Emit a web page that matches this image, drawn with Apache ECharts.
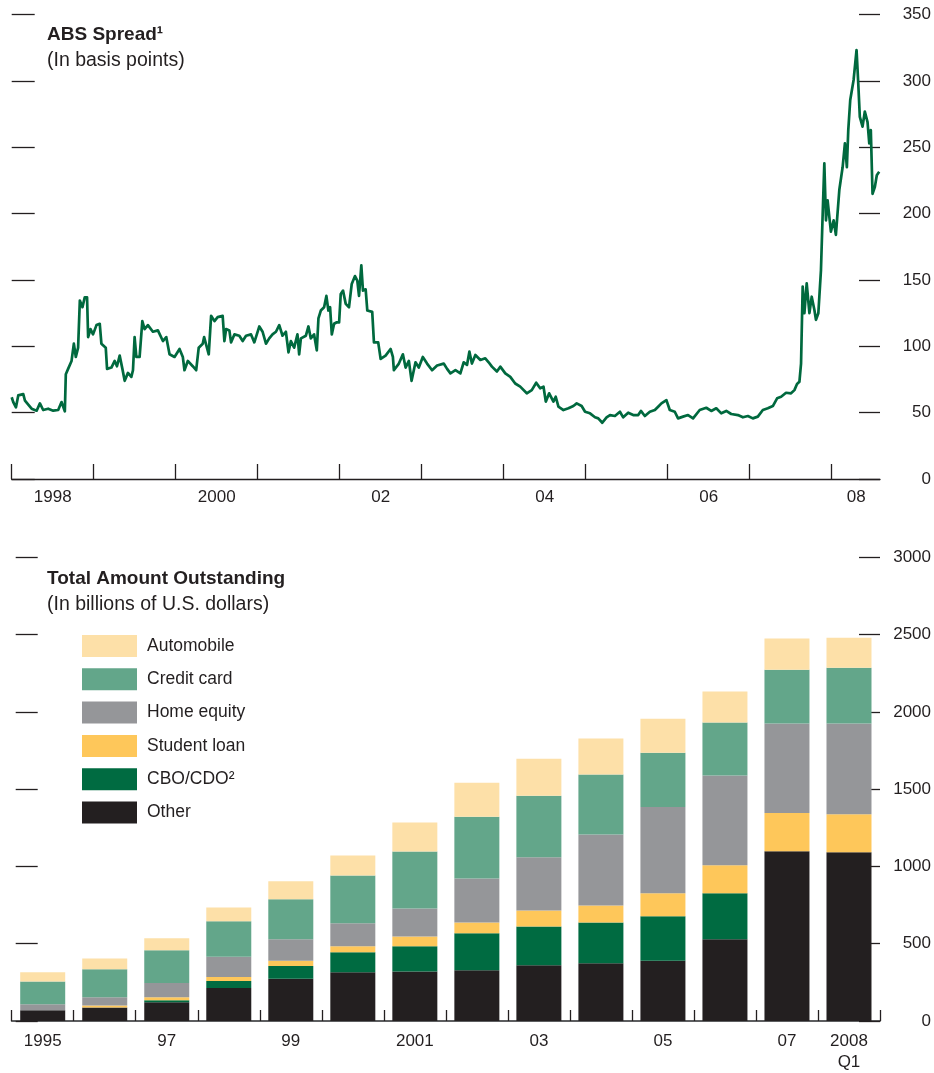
<!DOCTYPE html>
<html>
<head>
<meta charset="utf-8">
<script src="https://cdn.jsdelivr.net/npm/echarts@6/dist/echarts.min.js"></script>
<style>
  html, body { margin: 0; padding: 0; background: #fff; }
  #chart { width: 934px; height: 1073px; }
</style>
</head>
<body>
<div id="chart"></div>
<script>
// ABS spread, basis points (dates as decimal years)
const spreadDates = [
  1998.000, 1998.019, 1998.052, 1998.080, 1998.141, 1998.162, 1998.202, 1998.243, 1998.304, 1998.344,
  1998.384, 1998.445, 1998.506, 1998.567, 1998.608, 1998.648, 1998.660, 1998.688, 1998.730, 1998.758,
  1998.782, 1998.810, 1998.831, 1998.863, 1998.891, 1998.919, 1998.932, 1998.961, 1998.992, 1999.034,
  1999.074, 1999.094, 1999.147, 1999.163, 1999.216, 1999.256, 1999.284, 1999.317, 1999.350, 1999.378,
  1999.418, 1999.459, 1999.479, 1999.499, 1999.520, 1999.560, 1999.593, 1999.621, 1999.661, 1999.722,
  1999.783, 1999.844, 1999.885, 1999.925, 1999.986, 2000.047, 2000.087, 2000.107, 2000.148, 2000.208,
  2000.250, 2000.281, 2000.330, 2000.347, 2000.403, 2000.432, 2000.473, 2000.512, 2000.573, 2000.594,
  2000.615, 2000.655, 2000.675, 2000.716, 2000.776, 2000.817, 2000.858, 2000.919, 2000.959, 2001.020,
  2001.060, 2001.101, 2001.141, 2001.181, 2001.223, 2001.263, 2001.303, 2001.344, 2001.376, 2001.405,
  2001.445, 2001.485, 2001.506, 2001.527, 2001.588, 2001.619, 2001.648, 2001.688, 2001.721, 2001.741,
  2001.770, 2001.810, 2001.838, 2001.862, 2001.883, 2001.904, 2001.932, 2001.960, 2001.993, 2002.013,
  2002.041, 2002.074, 2002.114, 2002.147, 2002.187, 2002.215, 2002.236, 2002.264, 2002.284, 2002.317,
  2002.337, 2002.397, 2002.418, 2002.470, 2002.500, 2002.560, 2002.621, 2002.649, 2002.661, 2002.722,
  2002.771, 2002.804, 2002.844, 2002.877, 2002.925, 2002.965, 2003.014, 2003.066, 2003.127, 2003.188,
  2003.208, 2003.269, 2003.310, 2003.351, 2003.412, 2003.472, 2003.513, 2003.553, 2003.582, 2003.613,
  2003.655, 2003.716, 2003.776, 2003.817, 2003.857, 2003.918, 2003.959, 2004.020, 2004.081, 2004.141,
  2004.202, 2004.282, 2004.343, 2004.397, 2004.445, 2004.486, 2004.514, 2004.555, 2004.607, 2004.635,
  2004.668, 2004.729, 2004.790, 2004.850, 2004.891, 2004.951, 2004.993, 2005.053, 2005.114, 2005.154,
  2005.203, 2005.255, 2005.297, 2005.357, 2005.418, 2005.458, 2005.519, 2005.580, 2005.641, 2005.674,
  2005.722, 2005.783, 2005.844, 2005.884, 2005.924, 2005.985, 2006.026, 2006.087, 2006.127, 2006.188,
  2006.249, 2006.310, 2006.391, 2006.471, 2006.532, 2006.593, 2006.654, 2006.715, 2006.775, 2006.857,
  2006.918, 2006.979, 2007.039, 2007.100, 2007.161, 2007.222, 2007.283, 2007.335, 2007.384, 2007.444,
  2007.505, 2007.546, 2007.578, 2007.607, 2007.627, 2007.647, 2007.668, 2007.696, 2007.729, 2007.757,
  2007.790, 2007.809, 2007.838, 2007.870, 2007.891, 2007.911, 2007.931, 2007.951, 2007.991, 2008.025,
  2008.052, 2008.094, 2008.134, 2008.162, 2008.186, 2008.203, 2008.227, 2008.268, 2008.304, 2008.325,
  2008.344, 2008.377, 2008.405, 2008.438, 2008.459, 2008.478, 2008.499, 2008.527, 2008.551, 2008.580
];
const spreadValues = [
  61.6, 58, 54, 63, 64, 59, 56, 53, 51.5, 57,
  52, 53, 51.5, 52, 58, 51, 79, 83, 89, 102,
  92, 99, 134.5, 129.5, 137, 137, 107, 113, 109, 116,
  117, 102, 99, 83, 84, 89, 85, 93, 83, 74,
  80, 77, 82, 107, 92, 92, 119, 113, 116, 111,
  112, 104, 107, 94, 92, 98, 92, 82, 89, 85,
  82, 99, 102, 107, 94, 123, 119, 122, 123, 104,
  113, 112, 103, 109, 108, 104, 108, 109, 103, 115,
  111, 102, 106, 109, 111, 116, 108, 111, 95.5, 104,
  99, 109, 94, 106, 108, 115, 106, 109, 97, 121,
  127, 129.5, 138, 127, 129.5, 109, 117, 118, 118, 139.5,
  142, 132, 129.5, 147, 153, 149.6, 138, 161, 142, 143,
  127, 126, 103, 103, 90.5, 93, 98, 92, 82, 87,
  94, 84, 89, 74, 88, 84, 92, 87, 82, 85.5,
  84.7, 87, 83, 79.6, 82, 79.6, 88, 86, 96, 87,
  93.5, 89.7, 91, 88, 84.7, 81, 84.7, 79.6, 77, 72,
  69.6, 64.6, 67, 72.6, 68.4, 69.6, 58.3, 64.6, 58.3, 62,
  54.5, 52, 53.3, 55, 57, 55, 50.7, 49.5, 46.5, 45.7,
  42.4, 46.5, 48.2, 47.5, 50.7, 46.5, 50, 48.2, 48.2, 51.3,
  47.5, 50.7, 52, 54.5, 57, 59.5, 52, 50.7, 45.7, 47,
  48.2, 45.7, 52, 53.7, 51.3, 53.3, 49.5, 51.3, 49, 48.2,
  46.5, 47.5, 45.7, 47, 52, 53.3, 55, 60.8, 62, 65,
  64.6, 67, 71.6, 73.3, 87, 145, 125, 147.5, 125, 137.4,
  127.4, 120, 125, 157.5, 200, 238, 195, 210, 186.4, 195,
  184, 218, 235, 253, 235, 263, 285.7, 300.8, 323.4, 298,
  273, 265.6, 277, 269, 253, 263, 215, 220, 229, 231.6
];
const spreadTickYears = [1998, 1999, 2000, 2001, 2002, 2003, 2004, 2005, 2006, 2007, 2008];
const spreadLabelPos = [1998.5, 2000.5, 2002.5, 2004.5, 2006.5, 2008.3];
const spreadLabelText = ['1998', '2000', '02', '04', '06', '08'];

// Total amount outstanding, billions of U.S. dollars
const years = ['1995', '1996', '1997', '1998', '1999', '2000', '2001', '2002', '2003', '2004', '2005', '2006', '2007', '2008 Q1'];
const yearLabels = ['1995', '', '97', '', '99', '', '2001', '', '03', '', '05', '', '07', '2008\nQ1'];
const other = [69, 88, 121, 213, 273, 315, 321, 328, 360, 374, 389, 529, 1098, 1091];
const cboCdo = [0, 0, 13, 46, 83, 129, 162, 239, 252, 264, 289, 298, 0, 0];
const studentLoan = [0, 13, 19, 25, 33, 39, 64, 71, 103, 110, 149, 181, 248, 246];
const homeEquity = [39, 52, 93, 131, 140, 150, 181, 284, 345, 459, 558, 581, 578, 587];
const creditCard = [148, 181, 211, 230, 259, 308, 369, 400, 398, 388, 351, 343, 349, 361];
const automobile = [59, 71, 79, 90, 116, 129, 187, 219, 239, 232, 219, 199, 201, 195];

const FONT = "'Liberation Sans', Arial, sans-serif";
const INK = '#231f20';

const chart = echarts.init(document.getElementById('chart'));

const tickLine = { color: INK, width: 1.3 };
const tickLabel = { fontFamily: FONT, fontSize: 17, color: INK };

const barSeries = (name, data, color) => ({
  name: name,
  type: 'bar',
  stack: 'total',
  xAxisIndex: 1,
  yAxisIndex: 2,
  barWidth: 45,
  itemStyle: { color: color },
  data: data
});

const option = {
  backgroundColor: '#fff',
  animation: false,
  textStyle: { fontFamily: FONT, color: INK },
  title: [
    { text: 'ABS Spread¹', left: 47, top: 25, padding: 0, textStyle: { fontFamily: FONT, fontSize: 19, fontWeight: 'bold', color: INK } },
    { text: '(In basis points)', left: 47, top: 51, padding: 0, textStyle: { fontFamily: FONT, fontSize: 19.5, fontWeight: 'normal', color: INK } },
    { text: 'Total Amount Outstanding', left: 47, top: 569, padding: 0, textStyle: { fontFamily: FONT, fontSize: 19, fontWeight: 'bold', color: INK } },
    { text: '(In billions of U.S. dollars)', left: 47, top: 595, padding: 0, textStyle: { fontFamily: FONT, fontSize: 19.5, fontWeight: 'normal', color: INK } }
  ],
  legend: {
    orient: 'vertical',
    left: 82,
    top: 635,
    padding: 0,
    itemWidth: 55,
    itemHeight: 22,
    itemGap: 11.3,
    icon: 'rect',
    textStyle: { fontFamily: FONT, fontSize: 17.5, color: INK, padding: [9, 0, 0, 5] },
    data: ['Automobile', 'Credit card', 'Home equity', 'Student loan', 'CBO/CDO²', 'Other']
  },
  grid: [
    { left: 11.7, right: 52, top: 14.7, height: 464.3 },
    { left: 11.7, right: 52.3, top: 557.3, height: 464.4 }
  ],
  xAxis: [
    {
      gridIndex: 0,
      type: 'value',
      min: 1998,
      max: 2008.59,
      splitLine: { show: false },
      axisLine: { show: true, onZero: false, lineStyle: { color: INK, width: 1.3 } },
      axisTick: { show: true, inside: true, length: 15, lineStyle: tickLine, customValues: spreadTickYears },
      axisLabel: Object.assign({}, tickLabel, {
        margin: 10,
        customValues: spreadLabelPos,
        formatter: (v) => {
          const i = spreadLabelPos.findIndex((p) => Math.abs(p - v) < 0.01);
          return i >= 0 ? spreadLabelText[i] : '';
        }
      })
    },
    {
      gridIndex: 1,
      type: 'category',
      data: years,
      boundaryGap: true,
      axisLine: { show: true, lineStyle: { color: '#5d5e60', width: 1.8 } },
      axisTick: { show: true, inside: true, length: 11, lineStyle: { color: INK, width: 1.3 } },
      axisLabel: Object.assign({}, tickLabel, {
        interval: 0, margin: 10, lineHeight: 21,
        formatter: (v, i) => yearLabels[i]
      })
    }
  ],
  yAxis: [
    {
      gridIndex: 0, type: 'value', position: 'left', min: 0, max: 350, interval: 50,
      splitLine: { show: false }, axisLine: { show: false },
      axisTick: { show: true, inside: true, length: 23, lineStyle: tickLine },
      axisLabel: { show: false }
    },
    {
      gridIndex: 0, type: 'value', position: 'right', min: 0, max: 350, interval: 50,
      splitLine: { show: false }, axisLine: { show: false },
      axisTick: { show: true, inside: true, length: 21, lineStyle: tickLine },
      axisLabel: Object.assign({}, tickLabel, { align: 'right', margin: 51, formatter: (v) => String(v) })
    },
    {
      gridIndex: 1, type: 'value', position: 'right', min: 0, max: 3000, interval: 500,
      splitLine: { show: false }, axisLine: { show: false },
      axisTick: { show: true, inside: true, length: 21, lineStyle: tickLine },
      axisLabel: Object.assign({}, tickLabel, { align: 'right', margin: 51, formatter: (v) => String(v) })
    },
    {
      gridIndex: 1, type: 'value', position: 'left', offset: -4, min: 0, max: 3000, interval: 500,
      splitLine: { show: false }, axisLine: { show: false },
      axisTick: { show: true, inside: true, length: 22, lineStyle: tickLine },
      axisLabel: { show: false }
    }
  ],
  series: [
    {
      name: 'ABS spread',
      type: 'line',
      xAxisIndex: 0,
      yAxisIndex: 1,
      showSymbol: false,
      lineStyle: { color: '#00693e', width: 2.7, join: 'round' },
      data: spreadDates.map((d, i) => [d, spreadValues[i]])
    },
    barSeries('Other', other, INK),
    barSeries('CBO/CDO²', cboCdo, '#006b41'),
    barSeries('Student loan', studentLoan, '#fec75a'),
    barSeries('Home equity', homeEquity, '#959699'),
    barSeries('Credit card', creditCard, '#63a68a'),
    barSeries('Automobile', automobile, '#fde0a8')
  ]
};

chart.setOption(option);
</script>
</body>
</html>
